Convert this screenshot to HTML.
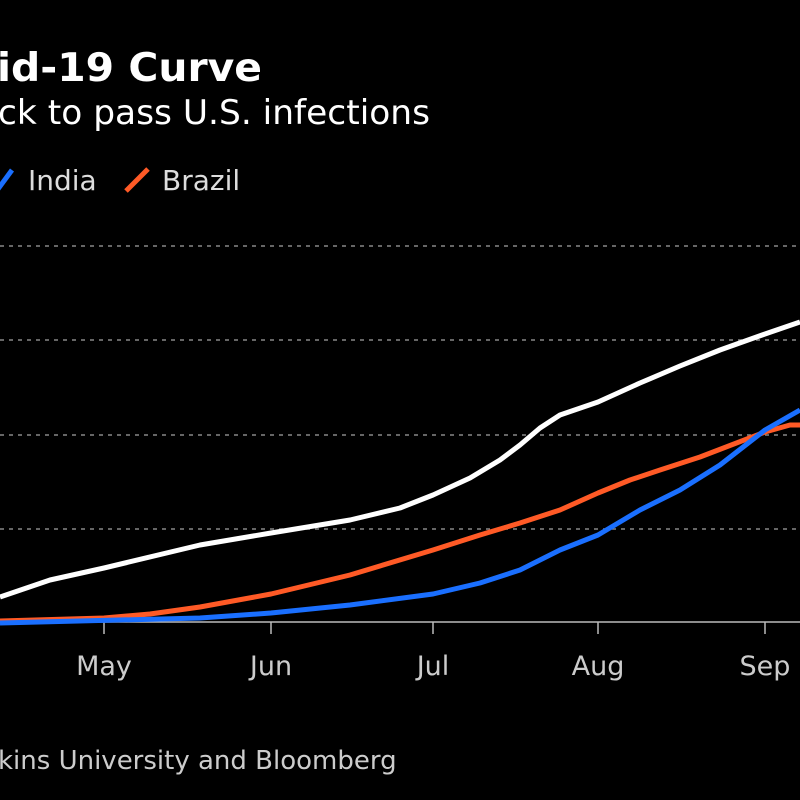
<!DOCTYPE html><html><head><style>
body{margin:0;background:#000;width:800px;height:800px;overflow:hidden;font-family:"DejaVu Sans","Liberation Sans",sans-serif}
</style></head><body>
<svg width="800" height="800" xmlns="http://www.w3.org/2000/svg" style="position:absolute;left:0;top:0">
<rect width="800" height="800" fill="#000"/>
<text x="-3" y="81" fill="#fff" font-size="39" font-weight="bold" font-family="DejaVu Sans,sans-serif" textLength="265" lengthAdjust="spacingAndGlyphs">id-19 Curve</text>
<text x="-2" y="124" fill="#fff" font-size="34" font-family="DejaVu Sans,sans-serif" textLength="432" lengthAdjust="spacingAndGlyphs">ck to pass U.S. infections</text>
<line x1="-2" y1="189" x2="12" y2="170" stroke="#1a6fff" stroke-width="5"/>
<text x="28" y="190" fill="#ddd" font-size="28" font-family="DejaVu Sans,sans-serif">India</text>
<line x1="126" y1="191" x2="148" y2="169" stroke="#ff5a26" stroke-width="5"/>
<text x="162" y="190" fill="#ddd" font-size="28" font-family="DejaVu Sans,sans-serif">Brazil</text>
<g stroke="#888" stroke-width="1.5" stroke-dasharray="4,5">
<line x1="0" y1="246" x2="800" y2="246"/><line x1="0" y1="340" x2="800" y2="340"/><line x1="0" y1="435" x2="800" y2="435"/><line x1="0" y1="529" x2="800" y2="529"/></g>
<line x1="0" y1="622" x2="800" y2="622" stroke="#bbb" stroke-width="1.5"/>
<g stroke="#bbb" stroke-width="1.5"><line x1="104" y1="622" x2="104" y2="634"/><line x1="271" y1="622" x2="271" y2="634"/><line x1="433" y1="622" x2="433" y2="634"/><line x1="598" y1="622" x2="598" y2="634"/><line x1="765" y1="622" x2="765" y2="634"/></g>
<g fill="#ccc" font-size="27" text-anchor="middle" font-family="DejaVu Sans,sans-serif">
<text x="104" y="675">May</text><text x="271" y="675">Jun</text><text x="433" y="675">Jul</text><text x="598" y="675">Aug</text><text x="765" y="675">Sep</text></g>
<g fill="none" stroke-width="5" stroke-linejoin="round">
<polyline stroke="#ff5a26" points="0,621 104,618 150,614 200,607 271,594 350,575 433,550 480,535 520,523 560,510 598,493 630,480 660,470 700,457 765,432 790,425 800,425"/>
<polyline stroke="#1a6fff" points="0,623 200,618 271,613 350,605 433,594 480,583 520,570 560,550 598,535 640,510 680,490 720,465 765,430 800,410"/>
<polyline stroke="#fff" points="0,597 50,580 104,568 200,545 271,533 350,520 400,508 433,495 470,478 500,460 520,445 540,428 560,415 598,402 640,383 680,366 720,350 765,334 800,322"/>
</g>
<text x="-2" y="769" fill="#ccc" font-size="26" font-family="DejaVu Sans,sans-serif">kins University and Bloomberg</text>
</svg>
</body></html>
